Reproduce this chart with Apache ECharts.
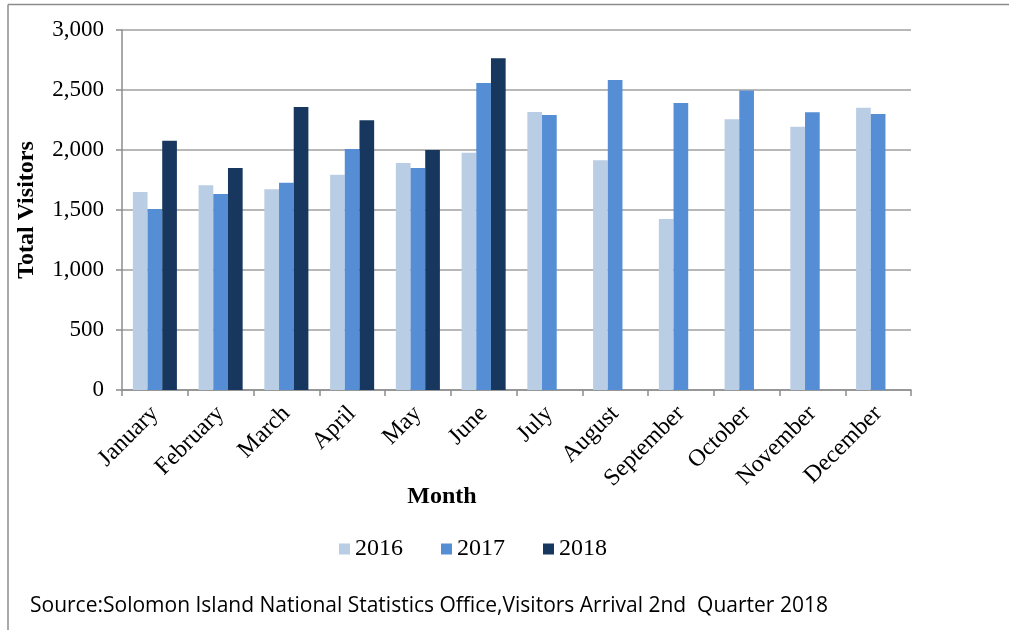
<!DOCTYPE html>
<html><head><meta charset="utf-8">
<script src="https://cdn.jsdelivr.net/npm/echarts@6/dist/echarts.min.js"></script>
<style>html,body{margin:0;padding:0;background:#fff}#c{width:1009px;height:630px}</style>
</head><body><div id="c"></div>
<script>
const months = ['January','February','March','April','May','June','July','August','September','October','November','December'];
const v2016 = [1650,1706,1672,1794,1892,1978,2317,1914,1425,2256,2194,2353];
const v2017 = [1508,1633,1728,2008,1850,2558,2292,2583,2392,2495,2314,2300];
const v2018 = [2078,1850,2358,2247,2000,2764,null,null,null,null,null,null];
const yTicks = [0,500,1000,1500,2000,2500,3000];
const serif = '"Liberation Serif","Times New Roman",serif';
const chart = echarts.init(document.getElementById('c'));
chart.setOption({
  animation:false,
  textStyle:{fontFamily:serif},
  grid:{left:122,right:98,top:30,bottom:240,containLabel:false},
  legend:{top:532,left:334,itemWidth:11,itemHeight:11,itemGap:38,icon:'rect',
    textStyle:{fontFamily:serif,fontSize:24,color:'#000'},data:['2016','2017','2018']},
  xAxis:{type:'category',data:months,
    axisLine:{lineStyle:{color:'#8c8c8c',width:1.5}},
    axisTick:{show:true,length:6,lineStyle:{color:'#8c8c8c',width:1.5}},
    axisLabel:{rotate:45,fontSize:24,color:'#000',margin:20,interval:0,padding:[0,0,0,0]}},
  yAxis:{type:'value',min:0,max:3000,interval:500,
    name:'Total Visitors',nameLocation:'middle',nameGap:83,nameRotate:90,
    nameTextStyle:{fontFamily:serif,fontSize:24,fontWeight:'bold',color:'#000'},
    axisLine:{show:true,lineStyle:{color:'#8c8c8c',width:1.5}},
    axisTick:{show:true,length:6,lineStyle:{color:'#8c8c8c',width:1.5}},
    axisLabel:{fontSize:23,color:'#000',margin:18,formatter:v=>yTicks.includes(v)?v.toLocaleString('en-US'):''},
    splitLine:{lineStyle:{color:'#a0a0a0',width:1.5}}},
  series:[
    {name:'2016',type:'bar',data:v2016,itemStyle:{color:'#B9CDE5'},barGap:'0%',barCategoryGap:'33%'},
    {name:'2017',type:'bar',data:v2017,itemStyle:{color:'#558ED5'},barGap:'0%',barCategoryGap:'33%'},
    {name:'2018',type:'bar',data:v2018,itemStyle:{color:'#17375E'},barGap:'0%',barCategoryGap:'33%'}
  ],
  graphic:[
    {type:'line',shape:{x1:8,y1:4.5,x2:1009,y2:4.5},style:{stroke:'#8c8c8c',lineWidth:1.5}},
    {type:'line',shape:{x1:8,y1:4.5,x2:8,y2:630},style:{stroke:'#8c8c8c',lineWidth:1.5}},
    {type:'text',x:442,y:497,style:{text:'Month',fontFamily:serif,fontSize:24,fontWeight:'bold',fill:'#000',align:'center',verticalAlign:'middle'}},
    {type:'text',left:30,top:596,style:{text:'Source:Solomon Island National Statistics Office,Visitors Arrival 2nd  Quarter 2018',
      fontFamily:'"Liberation Sans Narrow","Open Sans",sans-serif',fontSize:21,fill:'#000'}}
  ]
});
</script></body></html>
